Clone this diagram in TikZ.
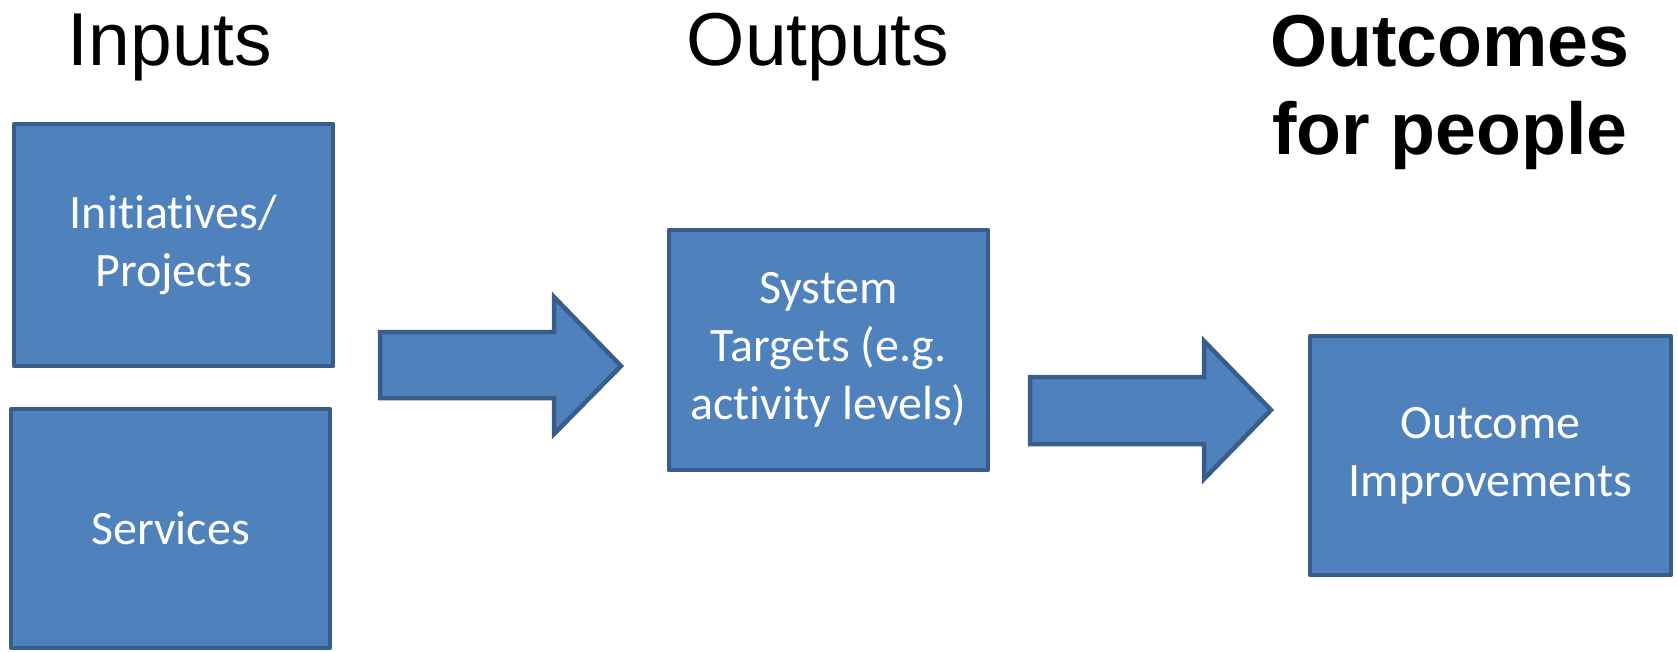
\documentclass[tikz,border=0pt]{standalone}
\usepackage{fontspec}
\setmainfont{Carlito}[Ligatures={NoCommon}]
\newfontfamily\arialfont{Liberation Sans}
\definecolor{boxfill}{HTML}{4F81BD}
\definecolor{boxline}{HTML}{385D8A}
\begin{document}
\begin{tikzpicture}[x=1pt,y=-1pt,
  blockbox/.style={rectangle, draw=boxline, fill=boxfill, line width=4.5pt,
    inner sep=0pt, outer sep=0pt, align=center, text=white,
    font=\fontsize{48}{58}\selectfont, line join=round},
  blockarrow/.style={draw=boxline, fill=boxfill, line width=4.5pt, line join=miter},
  titletext/.style={anchor=base, inner sep=0pt, text=black},
]
\useasboundingbox (0,0) rectangle (1678,651);

% titles
\node[titletext, font=\arialfont\fontsize{75}{90}\selectfont] (tin) at (170,65) {Inputs};
\node[titletext, font=\arialfont\fontsize{75}{90}\selectfont] (tout) at (818,65) {Outputs};
\node[titletext, font=\arialfont\bfseries\fontsize{73.5}{90}\selectfont] (toc1) at (1450,66) {Outcomes};
\node[titletext, font=\arialfont\bfseries\fontsize{73.5}{90}\selectfont] (toc2) at (1450,154) {for people};

% boxes
\node[blockbox, minimum width=319pt, minimum height=242pt] (init) at (173.5,245) {Initiatives/\\Projects};
\node[blockbox, minimum width=319pt, minimum height=239pt] (serv) at (170.5,528.5) {Services};
\node[blockbox, minimum width=319pt, minimum height=240pt] (sys) at (828.5,350) {System\\Targets (e.g.\\activity levels)};
\node[blockbox, minimum width=361pt, minimum height=239pt] (outc) at (1490.5,455.5) {Outcome\\Improvements};

% block arrows
\draw[blockarrow] (380,332) -- (554,332) -- (554,297) -- (621,366) -- (554,434) -- (554,398) -- (380,398) -- cycle;
\draw[blockarrow] (1030,377) -- (1204,377) -- (1204,341) -- (1271,410) -- (1204,479) -- (1204,444) -- (1030,444) -- cycle;
\end{tikzpicture}
\end{document}
